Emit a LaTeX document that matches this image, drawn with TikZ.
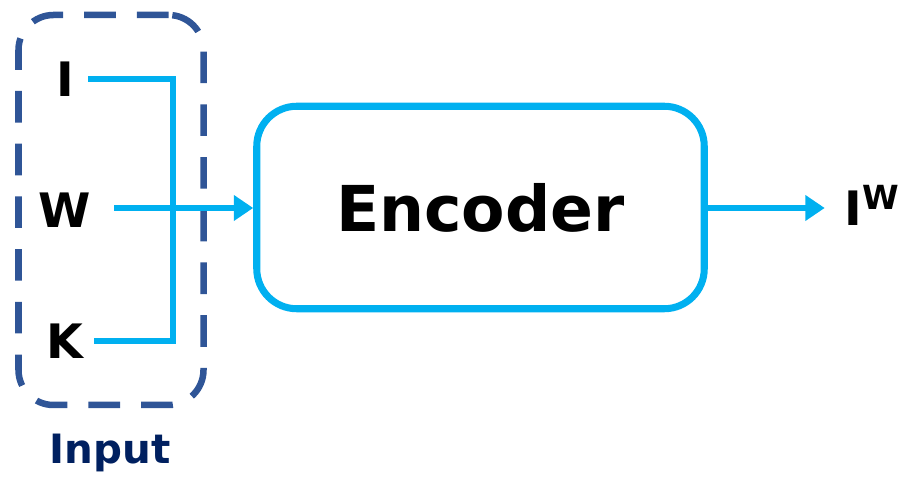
\documentclass[tikz,border=0pt]{standalone}
\usepackage{fontspec}
\setmainfont{DejaVu Sans}
\usetikzlibrary{arrows.meta,calc,positioning}
\definecolor{flowcyan}{HTML}{00B0F0}
\definecolor{boxblue}{HTML}{2F5597}
\definecolor{navy}{HTML}{002060}
\tikzset{
    lbl/.style = {inner sep=3pt, font=\fontsize{27}{30}\selectfont\bfseries},
    encbox/.style = {draw=flowcyan, line width=4pt, rounded corners=0.8cm,
                     minimum width=8.95cm, minimum height=4.05cm,
                     font=\fontsize{36}{40}\selectfont\bfseries},
    inbox/.style = {draw=boxblue, line width=3.7pt, rounded corners=0.7cm,
                    dash pattern=on 18pt off 12pt, minimum width=3.7cm, minimum height=7.8cm},
    flow/.style = {draw=flowcyan, line width=3.6pt},
    arr/.style = {flow, -{Triangle[length=11pt,width=14pt]}}
}

\begin{document}
\begin{tikzpicture}
    \useasboundingbox (0,0) rectangle (18.36,9.56);
    \node[inbox] (box) at (2.22,5.36) {};
    \node[lbl] (i) at (1.3,7.98) {I};
    \node[lbl] (w) at (1.3,5.36) {W};
    \node[lbl] (k) at (1.3,2.74) {K};
    \node[font=\fontsize{23}{26}\selectfont\bfseries, text=navy] (inp) at (2.2,0.5) {Input};
    \node[encbox] (enc) at (9.61,5.41) {Encoder};
    \node[lbl] (out) at (17.44,5.45) {I$^{\mathbf{W}}$};
    \coordinate (jn) at (3.46,5.4);

    % I and K joined on the right
    \path[flow] ([xshift=5pt]i.east) -- (i.east -| jn) -- (k.east -| jn) -- ([xshift=3pt]k.east);
    \path[arr] ([xshift=10pt]w.east |- jn) -- (enc.west |- jn);
    \path[arr] (enc.east |- jn) -- ([xshift=-8pt]out.west |- jn);
\end{tikzpicture}
\end{document}
